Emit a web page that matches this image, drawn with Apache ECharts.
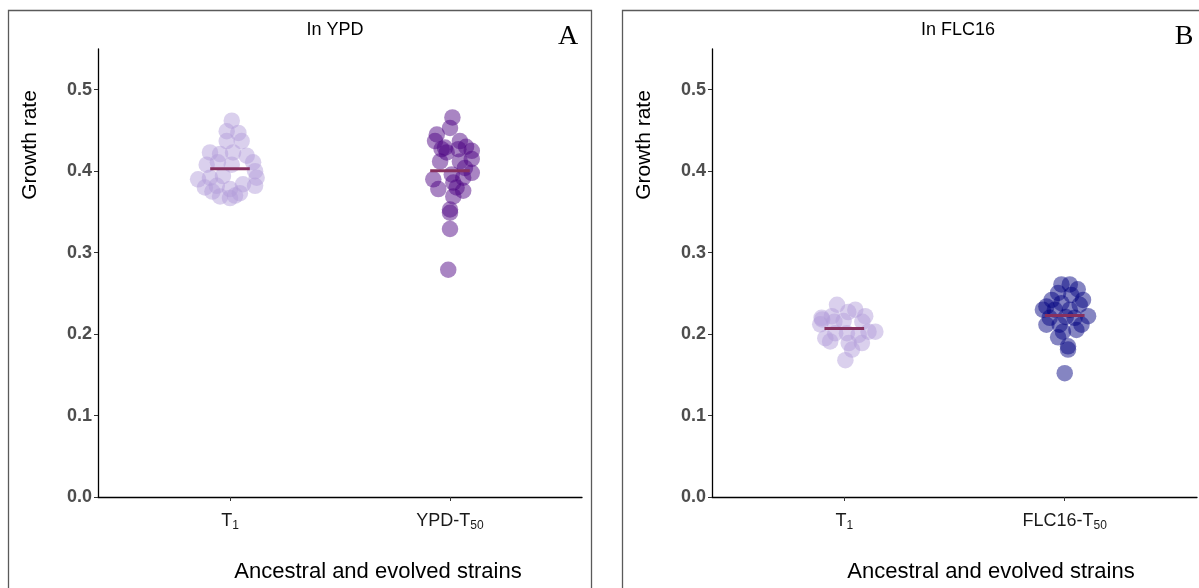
<!DOCTYPE html>
<html>
<head>
<meta charset="utf-8">
<script src="https://cdn.jsdelivr.net/npm/echarts@6/dist/echarts.min.js"></script>
<style>
  html, body { margin: 0; padding: 0; background: #fff; }
  #chart { width: 1199px; height: 588px; }
</style>
</head>
<body>
<div id="chart"></div>
<script>
// Growth rate of ancestral (T1) and evolved (T50) strains, measured in YPD and in FLC16.
const panelTitles = ['In YPD', 'In FLC16'];
const panelLetters = ['A', 'B'];
const ypdStrains = [['T', '1'], ['YPD-T', '50']];
const flcStrains = [['T', '1'], ['FLC16-T', '50']];
const yTickValues = [0, 0.1, 0.2, 0.3, 0.4, 0.5];

// In YPD, ancestral T1 isolates
const ypdAncRate = [0.462, 0.449, 0.447, 0.437, 0.437, 0.423, 0.421, 0.423, 0.419, 0.408, 0.411, 0.408, 0.411, 0.390,
  0.392, 0.394, 0.400, 0.392, 0.380, 0.382, 0.378, 0.384, 0.382, 0.369, 0.367, 0.370, 0.375, 0.373];
const ypdAncSpread = [0.008, -0.015, 0.038, -0.015, 0.053, -0.091, -0.045, 0.014, 0.076, -0.106, -0.055, 0.008, 0.105, -0.145,
  -0.091, -0.032, 0.114, 0.121, -0.114, -0.060, 0, 0.059, 0.114, -0.045, 0, 0.023, -0.08, 0.045];

// In YPD, evolved YPD-T50 isolates
const ypdEvoRate = [0.466, 0.453, 0.445, 0.437, 0.437, 0.427, 0.423, 0.425, 0.427, 0.412, 0.412, 0.415, 0.390, 0.396,
  0.404, 0.398, 0.378, 0.386, 0.392, 0.380, 0.376, 0.369, 0.353, 0.349, 0.329, 0.279, 0.429, 0.430];
const ypdEvoSpread = [0.011, 0, -0.06, -0.068, 0.045, -0.038, -0.015, 0.099, 0.038, -0.045, 0.045, 0.099, -0.076, 0.008,
  0.068, 0.099, -0.053, 0.015, 0.06, 0.03, 0.06, 0.015, 0, 0, 0, -0.008, -0.023, 0.073];

// In FLC16, ancestral T1 isolates
const flcAncRate = [0.236, 0.230, 0.220, 0.222, 0.222, 0.216, 0.212, 0.203, 0.203, 0.195, 0.201, 0.201, 0.199, 0.191,
  0.189, 0.189, 0.181, 0.168, 0.215, 0.215, 0.227, 0.218];
const flcAncSpread = [-0.033, 0.05, -0.103, -0.056, 0.095, -0.003, -0.109, 0.141, 0.11, -0.086, -0.041, 0.012, 0.065, -0.064,
  0.02, 0.08, 0.035, 0.005, 0.082, -0.045, 0.018, -0.1];

// In FLC16, evolved FLC16-T50 isolates
const flcEvoRate = [0.261, 0.261, 0.2505, 0.248, 0.242, 0.234, 0.238, 0.236, 0.230, 0.230, 0.230, 0.222, 0.220, 0.220,
  0.2115, 0.2115, 0.2115, 0.203, 0.205, 0.185, 0.181, 0.152, 0.242, 0.255, 0.221, 0.196];
const flcEvoSpread = [-0.015, 0.023, -0.03, 0.03, 0.083, -0.083, -0.015, 0.068, -0.099, -0.045, 0.023, 0.106, -0.068, 0.045,
  -0.083, -0.023, 0.076, -0.008, 0.053, 0.015, 0.015, 0, -0.059, 0.059, 0.005, -0.03];

const SANS = '"Liberation Sans", Arial, sans-serif';
const SERIF = '"Liberation Serif", "Times New Roman", serif';
const ancColor = 'rgba(177,156,217,0.6)';
const ypdColor = 'rgba(75,0,130,0.6)';
const flcColor = 'rgba(0,0,128,0.6)';
const meanColor = '#87305f';

const mean = arr => arr.reduce((a, b) => a + b, 0) / arr.length;
const points = (pos, rates, spread) => rates.map((r, i) => [pos + spread[i], r]);

const grids = [
  { left: 98, top: 49, width: 484, height: 448 },
  { left: 712, top: 49, width: 485, height: 448 }
];

function xAxisFor(gridIndex, strains) {
  return {
    type: 'value', gridIndex, min: 0.4, max: 2.6,
    axisLine: { show: true, onZero: false, lineStyle: { color: '#000', width: 1.3 } },
    axisTick: { show: true, length: 4, customValues: [1, 2], lineStyle: { color: '#333', width: 1 } },
    splitLine: { show: false },
    axisLabel: {
      customValues: [1, 2], margin: 13,
      formatter: v => {
        const s = strains[Math.round(v) - 1];
        return s ? '{m|' + s[0] + '}{s|' + s[1] + '}' : '';
      },
      rich: {
        m: { fontFamily: SANS, fontSize: 18, color: '#1a1a1a', lineHeight: 22, verticalAlign: 'middle' },
        s: { fontFamily: SANS, fontSize: 12, color: '#1a1a1a', lineHeight: 22, verticalAlign: 'bottom', padding: [9, 0, 0, 0] }
      }
    }
  };
}

function yAxisFor(gridIndex) {
  return {
    type: 'value', gridIndex, min: 0, max: 0.55,
    axisLine: { show: true, lineStyle: { color: '#000', width: 1.3 } },
    axisTick: { show: true, length: 4, customValues: yTickValues, lineStyle: { color: '#333', width: 1 } },
    splitLine: { show: false },
    axisLabel: {
      customValues: yTickValues, margin: 6,
      fontFamily: SANS, fontSize: 18, fontWeight: 'bold', color: '#4d4d4d',
      formatter: v => v.toFixed(1)
    }
  };
}

function scatter(idx, data, color) {
  return {
    type: 'scatter', xAxisIndex: idx, yAxisIndex: idx, data,
    symbolSize: 16.5, itemStyle: { color, borderWidth: 0 }, z: 2, silent: true
  };
}

function meanBars(idx, data) {
  return {
    type: 'custom', xAxisIndex: idx, yAxisIndex: idx, data, z: 5, silent: true,
    renderItem: (params, api) => {
      const x = api.value(0), m = api.value(1);
      const a = api.coord([x - 0.09, m]);
      const b = api.coord([x + 0.09, m]);
      return { type: 'line', shape: { x1: a[0], y1: a[1], x2: b[0], y2: b[1] },
               style: { stroke: meanColor, lineWidth: 3 } };
    }
  };
}

const chart = echarts.init(document.getElementById('chart'), null, { renderer: 'canvas' });

const textEl = (x, y, text, font, extra) => Object.assign({
  type: 'text', x, y, silent: true,
  style: { text, font, fill: '#000', align: 'center', verticalAlign: 'middle' }
}, extra || {});

chart.setOption({
  animation: false,
  backgroundColor: '#fff',
  grid: grids,
  xAxis: [xAxisFor(0, ypdStrains), xAxisFor(1, flcStrains)],
  yAxis: [yAxisFor(0), yAxisFor(1)],
  series: [
    scatter(0, points(1, ypdAncRate, ypdAncSpread), ancColor),
    scatter(0, points(2, ypdEvoRate, ypdEvoSpread), ypdColor),
    scatter(1, points(1, flcAncRate, flcAncSpread), ancColor),
    scatter(1, points(2, flcEvoRate, flcEvoSpread), flcColor),
    meanBars(0, [[1, mean(ypdAncRate)], [2, mean(ypdEvoRate)]]),
    meanBars(1, [[1, mean(flcAncRate)], [2, mean(flcEvoRate)]])
  ],
  graphic: [
    { type: 'rect', silent: true, shape: { x: 8.5, y: 10.5, width: 583, height: 600 },
      style: { fill: 'none', stroke: '#5a5a5a', lineWidth: 1.3 } },
    { type: 'rect', silent: true, shape: { x: 622.5, y: 10.5, width: 600, height: 600 },
      style: { fill: 'none', stroke: '#5a5a5a', lineWidth: 1.3 } },
    textEl(335, 30, panelTitles[0], '18px ' + SANS),
    textEl(958, 30, panelTitles[1], '18px ' + SANS),
    textEl(568, 37, panelLetters[0], '28px ' + SERIF),
    textEl(1184, 37, panelLetters[1], '28px ' + SERIF),
    textEl(30, 145, 'Growth rate', '21px ' + SANS, { rotation: Math.PI / 2 }),
    textEl(644, 145, 'Growth rate', '21px ' + SANS, { rotation: Math.PI / 2 }),
    textEl(378, 572, 'Ancestral and evolved strains', '22px ' + SANS),
    textEl(991, 572, 'Ancestral and evolved strains', '22px ' + SANS)
  ]
});
</script>
</body>
</html>
